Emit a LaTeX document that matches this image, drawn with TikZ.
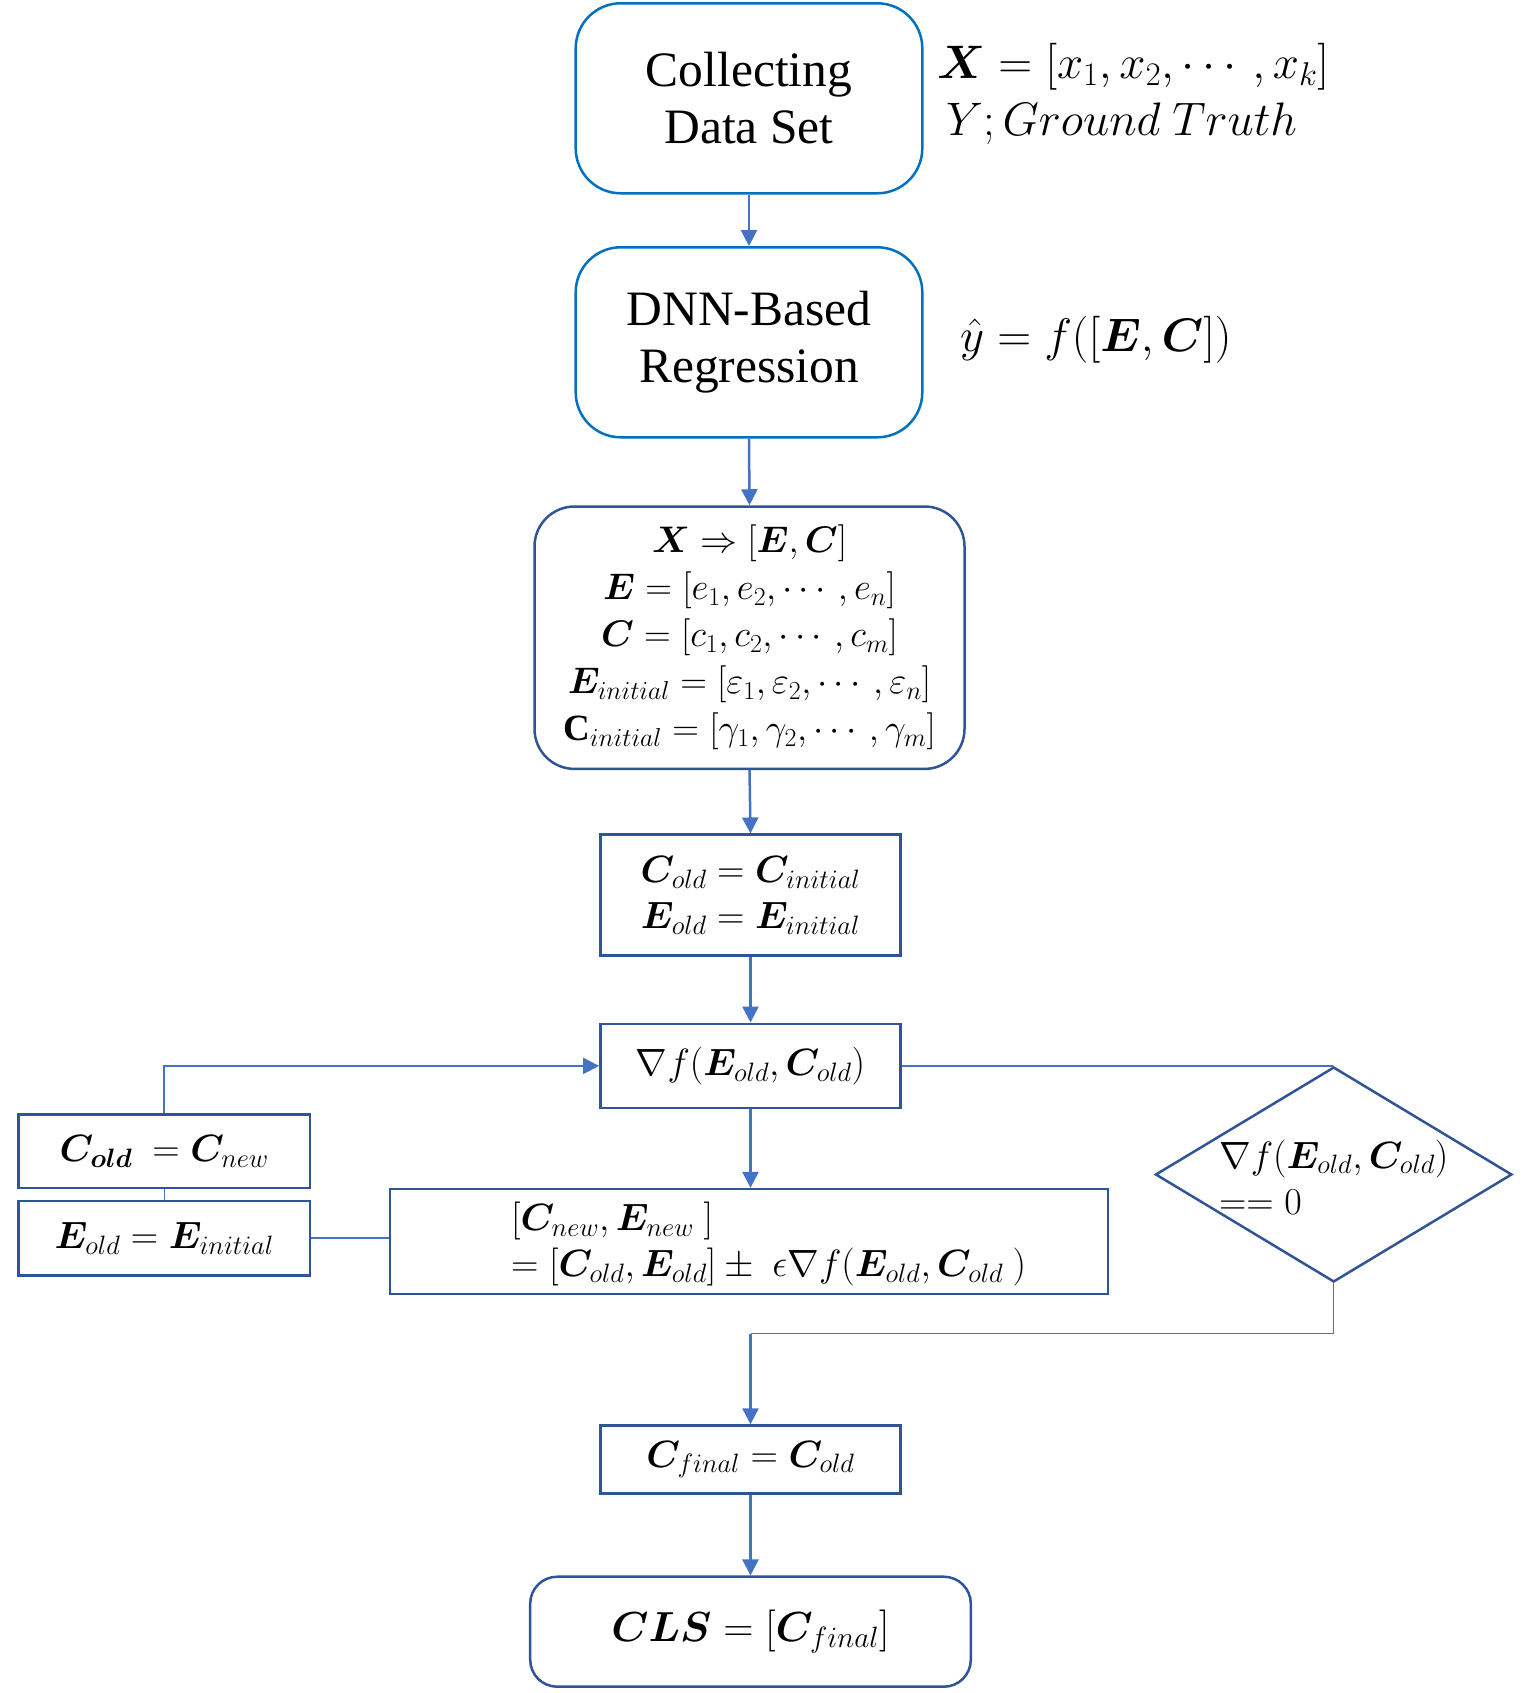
\RequirePackage{fix-cm}
\documentclass[tikz,border=0pt]{standalone}
\usepackage{amsmath}
\usepackage{fontspec}
\setmainfont{Liberation Serif}
\usepackage{bm}
\usetikzlibrary{shapes.geometric,arrows.meta}
\definecolor{cA}{RGB}{0,112,192}
\definecolor{cB}{RGB}{47,85,151}
\definecolor{cArr}{RGB}{68,114,196}
\tikzset{
  rbA/.style={draw=cA, line width=2.5pt, rounded corners=45pt, inner sep=0pt, align=center},
  rbB/.style={draw=cB, line width=2.5pt, rounded corners=40pt, inner sep=0pt, align=center},
  sqbox/.style={draw=cB, line width=2.5pt, inner sep=0pt, align=center},
  arr/.style={draw=cArr, line width=2.5pt, -{Triangle[width=16pt,length=16pt]}},
  looparr/.style={draw=cArr, line width=2pt, -{Triangle[width=16pt,length=16pt]}},
  thinl/.style={draw=cArr, line width=1.4pt},
  txtfont/.style={font=\fontsize{49.5}{57}\selectfont},
  mfont/.style={font=\fontsize{38}{46}\selectfont},
  sidefont/.style={font=\fontsize{47}{57}\selectfont},
}
\begin{document}
\begin{tikzpicture}[x=1pt,y=-1pt]
\useasboundingbox (0,0) rectangle (1528,1693);
% boxes
\node[rbA, txtfont, minimum width=346.6pt, minimum height=190pt] (b1) at (749,98.3) {Collecting\\Data Set};
\node[rbA, txtfont, minimum width=346.6pt, minimum height=190pt] (b2) at (749,342.3) {DNN-Based\\Regression};
\node[rbB, font=\fontsize{37}{47}\selectfont, minimum width=430pt, minimum height=262.4pt] (b3) at (749.5,637.7)
  {$\bm{X} \Rightarrow [\bm{E},\bm{C}]$\\
   $\bm{E} = [e_1, e_2, \cdots, e_n]$\\
   $\bm{C} = [c_1, c_2, \cdots, c_m]$\\
   $\bm{E}_{initial} = [\varepsilon_1, \varepsilon_2, \cdots, \varepsilon_n]$\\
   $\mathbf{C}_{initial} = [\gamma_1, \gamma_2, \cdots, \gamma_m]$};
\node[sqbox, mfont, minimum width=300.2pt, minimum height=121pt] (b4) at (750.5,895.2)
  {$\bm{C}_{old} = \bm{C}_{initial}$\\ $\bm{E}_{old} = \bm{E}_{initial}$};
\node[sqbox, mfont, minimum width=300.2pt, minimum height=84.3pt] (b5) at (750.5,1065.9)
  {$\nabla f(\bm{E}_{old}, \bm{C}_{old})$};
\node[sqbox, minimum width=718pt, minimum height=104.7pt] (b6) at (749,1241.4) {};
\node[mfont, anchor=west, align=left, inner sep=0pt] (b6t) at (511,1244)
  {$[\bm{C}_{new}, \bm{E}_{new}\ ]$\\
   $= [\bm{C}_{old}, \bm{E}_{old}] \pm\ \epsilon\nabla f(\bm{E}_{old}, \bm{C}_{old}\ )$};
\node[sqbox, mfont, minimum width=291.6pt, minimum height=73.5pt] (lc) at (164.2,1151.3)
  {$\bm{C}_{\bm{old}}\ = \bm{C}_{new}$};
\node[sqbox, mfont, minimum width=291.6pt, minimum height=74.6pt] (le) at (164.2,1238.1)
  {$\bm{E}_{old} = \bm{E}_{initial}$};
\node[draw=cB, line width=2.5pt, diamond, inner sep=0pt, minimum width=356.5pt, minimum height=215pt] (dia) at (1333.7,1174.5) {};
\node[mfont, align=left, inner sep=0pt] (diat) at (1333.7,1177)
  {$\nabla f(\bm{E}_{old}, \bm{C}_{old})$\\ $== 0$};
\node[sqbox, mfont, minimum width=300.2pt, minimum height=68pt] (b7) at (750.5,1459.5)
  {$\bm{C}_{final} = \bm{C}_{old}$};
\node[sqbox, rounded corners=27pt, font=\fontsize{42}{50}\selectfont, minimum width=440.6pt, minimum height=110pt] (b8) at (750.5,1631.7)
  {$\bm{CLS} = [\bm{C}_{final}]$};
% side texts
\node[sidefont, anchor=west, inner sep=0pt] (sx) at (937,67) {$\bm{X} = [x_1, x_2, \cdots, x_k]$};
\node[sidefont, anchor=west, inner sep=0pt] (sy) at (946,124) {$Y; Ground\ Truth$};
\node[sidefont, anchor=west, inner sep=0pt] (sf) at (960,340) {$\hat{y} = f([\bm{E}, \bm{C}])$};
% connectors
\coordinate (jn) at (750.5,1333.7);
\draw[arr] (b1.south) -- (b2.north);
\draw[arr] (b2.south) -- (b3.north);
\draw[arr] (b3.south) -- (b4.north);
\draw[arr] (b4.south) -- (b5.north);
\draw[arr] (b5.south) -- (b5.south |- b6.north);
\draw[looparr] (lc.north) |- (b5.west);
\draw[thinl] (lc.south) -- (le.north);
\draw[thinl] (le.east) -- (le.east -| b6.west);
\draw[thinl] (b5.east) -| (dia.north);
\draw[thinl] (dia.south) |- (jn);
\draw[arr] (jn) -- (b7.north);
\draw[arr] (b7.south) -- (b8.north);
\end{tikzpicture}
\end{document}
